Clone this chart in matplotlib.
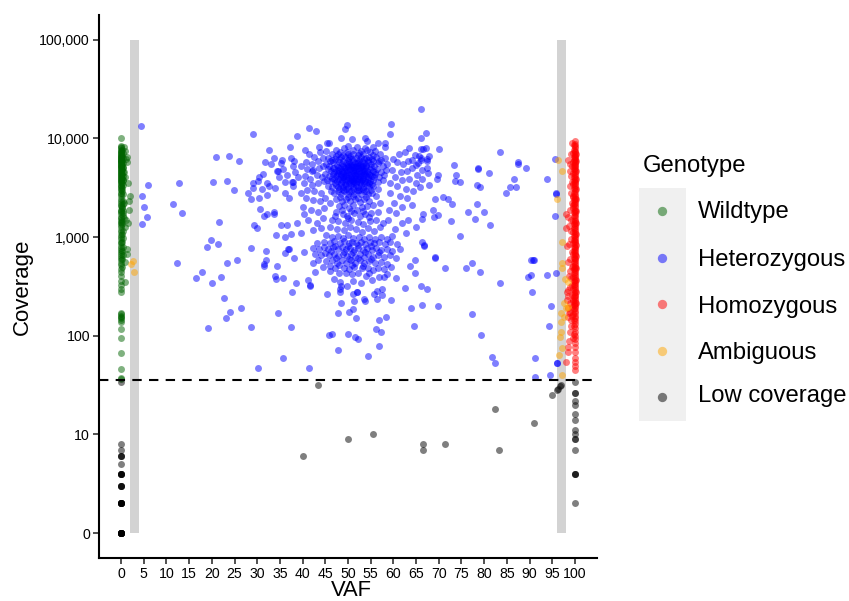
import numpy as np
import matplotlib
matplotlib.use("Agg")
import matplotlib.pyplot as plt
from matplotlib.patches import Rectangle
from matplotlib.ticker import FixedLocator, FixedFormatter, NullLocator

plt.rcParams["font.family"] = ["Liberation Sans", "DejaVu Sans"]

# coverage 0 sits on the log axis at 1, labelled "0"
wild_cov_0 = [10100, 8400, 8200, 8000, 7700, 7400, 7300, 7100, 7000, 6800, 6700, 6500, 6400, 6300, 6200, 6100,
              6000, 5900, 5800, 5700, 5600, 5500, 5400, 5300, 5200, 5100, 5000, 4900, 4800, 4700, 4600, 4500,
              4400, 4300, 4200, 4100, 4000, 3900, 3800, 3700, 3600, 3500, 3400, 3300, 3200, 3100, 3000, 2800,
              2700, 2600, 2450, 2300, 2200, 2100, 2050, 1900, 1850, 1800, 1700, 1600, 1550, 1480, 1420, 1380,
              1320, 1250, 1180, 1120, 1050, 1000, 950, 900, 860, 820, 780, 740, 700, 670, 640, 610, 580, 550,
              520, 470, 440, 400, 360, 330, 300, 280, 170, 165, 160, 155, 150, 145, 138, 117, 95, 67, 46, 37, 36]
wild_near = [(0.3, 7600), (0.4, 7050), (0.2, 6650), (0.4, 6250), (0.3, 5950), (0.5, 5650), (0.2, 5350), (0.4, 5150),
             (0.3, 4850), (0.5, 4550), (0.2, 4350), (0.4, 4150), (0.3, 3950), (0.5, 3750), (0.2, 3550), (0.4, 3350),
             (0.3, 3150), (0.2, 2950), (0.4, 2750), (0.5, 2150), (0.3, 2000), (0.2, 1950), (0.4, 1750), (0.5, 1650),
             (0.3, 1450), (0.2, 1350), (0.4, 1150), (0.3, 1080), (0.5, 980), (0.2, 880), (0.4, 800), (0.3, 720),
             (0.5, 650), (0.2, 600), (0.3, 500)]
wild_off = [(1.3, 6500), (1.25, 5700), (0.7, 8100), (0.9, 7400), (1.0, 6200), (1.5, 3500), (0.9, 4100), (0.6, 4600),
            (1.9, 2600), (1.8, 2300), (1.8, 1900), (1.6, 1400), (0.9, 1260), (0.7, 1570), (1.0, 1500), (0.5, 2300),
            (0.7, 2200), (0.4, 1850), (1.3, 760), (1.4, 670), (0.9, 560), (0.9, 350), (0.4, 5000), (0.5, 3800)]

het_sparse = [(4.4, 13400), (6.0, 3400), (4.7, 2600), (5.0, 2030), (5.8, 1600), (4.6, 1360), (12.8, 3500), (11.5, 2170),
              (13.4, 1760), (12.3, 550), (20.9, 6500), (23.8, 6600), (26, 5900), (20.3, 3600), (23.3, 3700), (24.9, 3000),
              (29.1, 11000), (38.8, 10600), (37.2, 8200), (32.6, 7700), (31.7, 5800), (33, 5500), (33.7, 6350), (35.2, 5650),
              (35.5, 6100), (35.7, 4900), (34.4, 4700), (34.6, 4700), (31.3, 4400), (30.4, 4100), (30.2, 3700), (29.1, 3500),
              (29.1, 3150), (28, 2800), (28.6, 2400), (30.4, 2500), (31.1, 3100), (32.2, 3500), (32.6, 3300), (33.9, 3150),
              (32.2, 2650), (34.8, 4100), (36.6, 4300), (36.1, 3600), (37.9, 3600), (37.7, 3650), (37.9, 3300), (36.1, 2800),
              (37, 2500), (37.4, 6350), (37.9, 5200), (38.1, 5900), (38.3, 4600), (39, 4100), (39.6, 5200), (39.6, 2800),
              (40.1, 2030), (30.6, 1930), (31.5, 1650), (32.2, 1730), (33.7, 1800), (33.7, 1700), (38.8, 1400), (35.2, 1320),
              (36.6, 1320), (34.1, 1050), (36.1, 1000), (37.4, 1080), (39.6, 1100), (29.3, 1320), (30, 1240), (21.6, 1430),
              (19.8, 930), (21.4, 850), (18.9, 800), (28.6, 770), (31.9, 720), (36.8, 750), (37, 750), (36.1, 690),
              (40.3, 710), (38.1, 610), (34.4, 510), (31.9, 590), (31.5, 530), (31.6, 510), (25.6, 590), (23.3, 550),
              (17.8, 440), (16.5, 385), (20, 340), (22, 395), (22.7, 240), (26.4, 190), (24, 175), (23.1, 150),
              (19.2, 120), (28.6, 123), (37.4, 123), (34.6, 170), (35.7, 60), (30.2, 47), (37.7, 280), (38.5, 340),
              (35.7, 385), (34.1, 375), (34, 400), (41.4, 47), (47.8, 72), (54.4, 62), (56.8, 79), (50, 104),
              (45.8, 102), (46.5, 105), (51.5, 97), (52.2, 92), (56.2, 117), (57.3, 109), (64.5, 125), (47.8, 170),
              (50.2, 175), (51.1, 185), (51.8, 150), (56.8, 145), (58.4, 155), (48.5, 215), (51.3, 225), (53.5, 235),
              (53.7, 225), (56.4, 235), (59.5, 230), (63.9, 190), (66.3, 205), (69.8, 200), (45.4, 265), (41.2, 365),
              (41.6, 320), (41.7, 325), (46.9, 375), (48.2, 350), (48.5, 320), (48.2, 300), (48.2, 275), (49.8, 320),
              (51.1, 360), (52.9, 340), (51.1, 265), (52, 280), (52, 275), (55.7, 265), (56.4, 285), (57.5, 300),
              (57.5, 260), (54, 400), (55.3, 370), (56.8, 395), (57.9, 395), (60.6, 385), (62.6, 305), (66, 320),
              (67.4, 295), (64.8, 430), (63.7, 510), (64.8, 590), (69.2, 620), (48, 430), (52.2, 430), (53, 480),
              (56.6, 480), (42.7, 440), (42.3, 550), (66.1, 20000), (67.2, 11400), (66.1, 10000), (66.5, 7800), (66.1, 7800),
              (67.2, 8000), (70, 7800), (67.8, 6600), (83.5, 7200), (87.4, 5800), (87.4, 5500), (89.2, 5050), (86.6, 3850),
              (85.7, 3200), (87, 3200), (84.8, 2800), (93.8, 3850), (95.6, 6200), (95.8, 2750), (95.9, 2780), (95.6, 1650),
              (78.6, 4950), (78.7, 4900), (81, 4450), (78.4, 3400), (79.1, 3200), (73.3, 5400), (73.8, 4300), (73.6, 3700),
              (74.7, 3600), (69.8, 4300), (69.6, 3850), (67.8, 3400), (69.2, 2400), (70.9, 2550), (72, 2400), (72.9, 2170),
              (78.4, 2170), (76.4, 1800), (80, 1800), (78, 1530), (81.3, 1320), (72.7, 1470), (74.7, 1030), (68.7, 1860),
              (69.8, 1680), (68.9, 1600), (66.5, 1730), (66.3, 1510), (66.1, 6300), (66.1, 6000), (67.4, 5900), (67.4, 6200),
              (67.4, 5050), (66.3, 4800), (67.6, 4450), (66.3, 3900), (66.3, 900), (66.7, 820), (66.8, 830), (69.2, 630),
              (71.4, 490), (76, 490), (77.3, 550), (79.1, 440), (83.5, 340), (77.3, 165), (79.3, 102), (81.7, 61),
              (82.4, 53), (90.3, 590), (90.7, 590), (91, 590), (89.6, 395), (90.3, 410), (93.8, 410), (95.8, 430),
              (90.5, 275), (94.7, 200), (94.3, 125), (91.2, 60), (91.2, 38), (94.5, 40), (96, 53), (96.1, 53)]

het_top = [(59.5, 14000), (49.8, 13700), (49.3, 12500), (41.4, 12800), (43, 11900), (59.3, 11000), (48.5, 10000),
           (53.7, 10000), (54.2, 9400), (50.9, 9900), (45.4, 8900), (45.8, 8900), (43.6, 8200), (56.6, 8900),
           (58.1, 8900), (58.1, 8200), (55.5, 8200), (63.4, 8000), (61.2, 6900), (62.5, 7200), (64.8, 6800), (65.6, 6600),
           (63.2, 5900), (64.2, 6000), (60, 6200), (60.8, 5700), (62.1, 5500), (64.9, 5400), (65.5, 5600), (59.6, 4800),
           (61.6, 4600), (63, 4700), (64, 5000), (65.1, 4300), (60.3, 4100), (61.8, 3800), (63.4, 3900), (64.9, 3500),
           (59.2, 3500), (60.7, 3300), (62.7, 3100), (64.4, 2900), (65.9, 3200), (59.3, 2800), (61.4, 2600), (63, 2500),
           (60.2, 2200), (62, 2000), (64.2, 2100), (59, 1900), (60.6, 1750), (63.2, 1500), (61.9, 1400), (64.9, 1250),
           (60.3, 1200), (62.8, 1100), (58.9, 1500), (40.5, 7600), (41.4, 6900), (42.6, 6400), (43.8, 7200), (40.7, 5800),
           (42, 5500), (43.3, 5900), (44.4, 6300), (41, 4900), (42.1, 4700), (42.4, 4750), (43.7, 5000), (44.6, 5200),
           (40.6, 4200), (41.6, 3900), (43.1, 4300), (44.2, 4100), (40.2, 3500), (42, 3400), (43.5, 3500), (44.8, 3700),
           (41, 3000), (42.6, 2900), (44.1, 2800), (40.8, 2500), (42.2, 2350), (43.8, 2300), (44.9, 2500), (40.3, 1700),
           (41.9, 1900), (43.4, 1800), (44.7, 1950), (41.2, 1500), (43.1, 1380), (44.5, 1550), (42.4, 1180), (44, 1220)]

het_core = [(45.2, 7400), (46.4, 7000), (47.3, 7700), (48.2, 7200), (49.1, 7900), (50.1, 8300), (51, 7600), (51.9, 8100),
            (52.8, 7500), (53.8, 8000), (54.8, 7200), (55.9, 7500), (57, 6900), (45.6, 6300), (46.5, 6100), (47.4, 6600),
            (48.1, 6200), (48.9, 6800), (49.4, 6400), (50, 7000), (50.5, 6600), (51.1, 6900), (51.7, 6300), (52.2, 6800),
            (52.8, 6500), (53.3, 6900), (53.9, 6300), (54.6, 6500), (55.3, 6200), (56.2, 6400), (57.3, 6100), (58.2, 6300),
            (45.1, 5500), (45.9, 5300), (46.8, 5700), (47.5, 5400), (48, 5800), (48.6, 5500), (49, 5900), (49.5, 5600),
            (49.9, 6000), (50.3, 5700), (50.7, 5400), (51.2, 5900), (51.5, 5600), (51.9, 5300), (52.3, 5800), (52.7, 5500),
            (53.1, 5900), (53.6, 5600), (54, 5400), (54.5, 5800), (55, 5500), (55.7, 5300), (56.5, 5600), (57.6, 5200),
            (58.5, 5500), (45.5, 4900), (46.3, 4700), (47, 5000), (47.7, 4800), (48.3, 5000), (48.7, 4700), (49.2, 5100),
            (49.6, 4800), (50, 5100), (50.4, 4900), (50.8, 5100), (51.1, 4800), (51.4, 5100), (51.8, 4800), (52.1, 5000),
            (52.5, 4700), (52.9, 5100), (53.3, 4800), (53.7, 5000), (54.2, 4700), (54.8, 4900), (55.4, 4700), (56.3, 4900),
            (57.2, 4600), (58.3, 4800), (44.9, 4400), (45.8, 4200), (46.6, 4400), (47.3, 4200), (47.9, 4500), (48.4, 4200),
            (48.9, 4500), (49.3, 4300), (49.8, 4600), (50.2, 4300), (50.6, 4500), (50.9, 4200), (51.3, 4500), (51.6, 4300),
            (52, 4500), (52.4, 4200), (52.8, 4500), (53.2, 4300), (53.5, 4500), (54, 4200), (54.6, 4400), (55.2, 4200),
            (56, 4400), (56.9, 4100), (58, 4300), (45.3, 3800), (46.2, 3700), (47, 3900), (47.6, 3700), (48.2, 3900),
            (48.7, 3700), (49.1, 3900), (49.5, 3700), (50, 4000), (50.4, 3700), (50.8, 3900), (51.2, 3700), (51.6, 3900),
            (52, 3700), (52.4, 3900), (52.8, 3700), (53.3, 3900), (53.8, 3700), (54.3, 3900), (54.9, 3700), (55.6, 3800),
            (56.6, 3600), (57.7, 3800), (45.7, 3300), (46.5, 3200), (47.3, 3400), (47.9, 3200), (48.5, 3400), (49, 3200),
            (49.6, 3400), (50.1, 3200), (50.7, 3400), (51.2, 3200), (51.7, 3400), (52.2, 3200), (52.8, 3400), (53.4, 3200),
            (54.1, 3400), (54.7, 3200), (55.5, 3300), (56.6, 3100), (46.2, 2900), (47, 2800), (47.8, 2900), (48.4, 2700),
            (49.2, 2900), (50, 2700), (50.6, 2900), (51.4, 2700), (52.1, 2900), (52.9, 2700), (53.6, 2900), (54.4, 2700),
            (55.2, 2800), (56.1, 2600), (47.3, 2400), (48.6, 2300), (49.5, 2450), (50.5, 2300), (51.5, 2400), (52.6, 2250),
            (53.5, 2400), (54.6, 2300), (46.1, 2200), (48.1, 2050), (49.1, 2100), (50.2, 1950), (51, 2100), (52, 1900),
            (53, 2000), (54.2, 2050), (55.6, 2100), (57, 2200), (47.4, 1800), (48.9, 1700), (49.8, 1650), (51.4, 1750),
            (52.6, 1650), (53.7, 1700), (55.1, 1750), (56.6, 1800), (46.4, 1500), (47.9, 1450), (49.3, 1400), (50.7, 1500),
            (52.2, 1420), (53.4, 1350), (54.8, 1450), (56.2, 1500), (57.8, 1400), (46, 1250), (47.6, 1200), (49.1, 1180),
            (50.4, 1250), (51.8, 1200), (53.1, 1120), (54.5, 1220), (55.8, 1150), (57.1, 1250)]

# second pass over the dark centre, between the rows above
het_core_fill = [(47.7, 6950), (49.7, 7350), (52.5, 7150), (54.2, 7550), (48.4, 6450), (50.2, 6250), (53.6, 6150), (55.6, 6750),
                 (46.1, 5850), (47.1, 6150), (48.9, 5250), (50.1, 5480), (50.9, 6120), (51.6, 5150), (52.5, 6050), (53.4, 5250),
                 (54.3, 6080), (55.4, 5880), (56.9, 5850), (46.6, 5050), (47.9, 5150), (48.5, 4380), (49.4, 4950), (49.9, 5300),
                 (50.6, 5250), (51.1, 5350), (51.5, 4650), (51.9, 5600), (52.3, 5300), (52.7, 4950), (53.1, 5250), (53.5, 4650),
                 (53.9, 5200), (54.4, 4550), (55.1, 5100), (55.9, 4600), (46.9, 4600), (47.5, 4400), (48.1, 4650), (48.8, 4050),
                 (49.2, 4700), (49.6, 4150), (50, 4400), (50.3, 4750), (50.7, 4100), (51, 4650), (51.4, 3950), (51.8, 4150),
                 (52.2, 4350), (52.6, 4050), (53, 4650), (53.4, 4100), (53.8, 4350), (54.3, 4050), (54.9, 4250), (55.7, 4050),
                 (46.4, 3950), (47.2, 3550), (47.8, 3850), (48.4, 3550), (49, 4050), (49.4, 3480), (49.8, 3820), (50.2, 3520),
                 (50.6, 3750), (51, 3500), (51.4, 3620), (51.8, 3550), (52.2, 3850), (52.6, 3520), (53, 3820), (53.6, 3550),
                 (54.1, 3580), (54.6, 3550), (55.3, 3480), (48.1, 3050), (48.8, 2980), (49.5, 3080), (50.3, 2950), (51, 3050),
                 (51.9, 3030), (52.5, 2980), (53.2, 3050), (54, 2950), (55, 3020), (48.3, 2550), (49.9, 2520), (51, 2620),
                 (52.3, 2500), (53.9, 2550), (48.6, 1900), (50.6, 1830), (53.3, 1850), (47.1, 1620), (50.1, 1550), (54.6, 1600)]

het_lower = [(45.2, 1050), (46.4, 1000), (47.7, 1030), (48.9, 980), (50.1, 1040), (51.2, 970), (52.4, 1010), (53.5, 950),
             (54.7, 1000), (56, 960), (57.2, 1000), (58.6, 950), (59.8, 1020), (44.8, 900), (46, 860), (47, 910),
             (48.2, 870), (49.2, 920), (50.2, 860), (50.9, 900), (51.8, 860), (52.8, 900), (53.8, 850), (54.9, 890),
             (55.8, 860), (56.9, 890), (58.2, 850), (59.3, 880), (60.8, 840), (43.1, 860), (42.2, 780), (43.6, 760),
             (44.7, 800), (45.6, 760), (46.7, 790), (47.7, 750), (48.6, 790), (49.5, 750), (50.4, 780), (51.3, 740),
             (52.3, 780), (53.2, 740), (54.2, 780), (55.2, 740), (56.2, 770), (57.3, 740), (58.5, 760), (59.7, 730),
             (61.4, 760), (42.8, 680), (44, 650), (45, 690), (45.9, 650), (46.9, 680), (47.9, 640), (48.9, 680),
             (49.8, 640), (50.7, 670), (51.6, 630), (52.6, 670), (53.5, 630), (54.5, 670), (55.5, 630), (56.6, 660),
             (57.9, 630), (59.2, 650), (60.6, 620), (43.3, 590), (45.2, 570), (46.4, 590), (47.5, 550), (48.6, 590),
             (49.6, 550), (50.6, 580), (51.6, 540), (52.6, 580), (53.6, 540), (54.7, 570), (55.9, 540), (57.2, 560),
             (58.6, 530), (44.6, 500), (46, 510), (47.2, 480), (49.1, 490), (50.2, 470), (51.4, 500), (54.4, 490),
             (55.4, 460), (58, 470), (59.4, 500), (46, 450), (49.6, 430), (50.8, 420), (54.6, 430), (58.6, 420),
             (47.2, 820), (49.9, 815), (52.1, 830), (55.1, 810), (46.2, 720), (49.1, 705), (51, 700), (53.8, 710),
             (56.9, 700), (47.4, 610), (50.3, 605), (52.2, 610), (55, 600), (48.1, 520), (50.9, 520), (53.2, 510)]

homo_cov_100 = [9300, 8800, 8300, 7900, 7500, 7200, 6900, 6600, 6400, 6200, 6000, 5800, 5600, 5400, 5200, 5000, 4800, 4600,
                4400, 4200, 4000, 3800, 3650, 3500, 3350, 3200, 3050, 2900, 2750, 2600, 2500, 2400, 2300, 2200, 2100, 2000,
                1900, 1820, 1740, 1660, 1580, 1500, 1440, 1380, 1320, 1260, 1200, 1150, 1100, 1050, 1000, 960, 920, 880,
                840, 800, 770, 740, 710, 680, 650, 620, 600, 570, 550, 520, 500, 480, 460, 440, 420, 400, 380, 365, 350,
                335, 320, 305, 290, 275, 260, 250, 240, 230, 220, 210, 200, 190, 180, 170, 160, 150, 140, 130, 120, 110,
                100, 92, 84, 76, 68, 60, 54, 49, 45]
homo_near = [(99.7, 8500), (99.8, 7700), (99.6, 7050), (99.8, 6500), (99.7, 6100), (99.6, 5700), (99.8, 5300), (99.7, 4900),
             (99.6, 4500), (99.8, 4100), (99.7, 3720), (99.6, 3420), (99.8, 3120), (99.7, 2820), (99.6, 2550), (99.8, 2350),
             (99.7, 2150), (99.6, 1950), (99.8, 1780), (99.7, 1620), (99.6, 1470), (99.8, 1350), (99.7, 1230), (99.6, 1120),
             (99.8, 1020), (99.7, 940), (99.6, 860), (99.8, 785), (99.7, 725), (99.6, 665), (99.8, 610), (99.7, 560),
             (99.6, 510), (99.8, 470), (99.7, 430), (99.6, 390), (99.8, 358), (99.7, 328), (99.6, 298), (99.8, 268),
             (99.7, 245), (99.6, 225), (99.8, 205), (99.7, 185), (99.6, 165), (99.8, 145), (99.7, 125), (99.8, 105),
             (100.2, 7000), (100.3, 5900), (100.2, 4700), (100.3, 3900), (100.2, 3100), (100.3, 2450), (100.2, 1850),
             (100.3, 1400), (100.2, 1080), (100.3, 830), (100.2, 640), (100.3, 490), (100.2, 370), (100.3, 280), (100.2, 215)]
homo_off = [(99.4, 9000), (99.2, 7000), (98.5, 6100), (99, 5500), (99.4, 5200), (98.9, 4700), (99.2, 4200), (99.4, 3600),
            (99, 3300), (99.2, 2800), (99.5, 2600), (99.3, 2200), (99.5, 2100), (98, 1730), (98.5, 1600), (98.8, 1900),
            (99.1, 1500), (98, 1220), (98.6, 1300), (99.2, 1150), (98.2, 820), (98.7, 850), (99.2, 950), (99.4, 700),
            (98.5, 560), (99, 600), (99.3, 500), (98.8, 450), (99.1, 380), (98.6, 400), (98.2, 275), (98.5, 290),
            (98.9, 310), (99.3, 330), (98.2, 230), (98.5, 250), (98.9, 215), (99.3, 260), (98.4, 190), (98.9, 175),
            (99.3, 195), (98.5, 155), (98.7, 170), (99.2, 145), (98.9, 109), (99.2, 125), (98.7, 89), (98.5, 77),
            (98.5, 68), (98, 54), (99.3, 160), (99.5, 95), (99.5, 230)]

amb_points = [(2.6, 570), (2.2, 530), (2.9, 440), (96.3, 6100), (97.1, 4700), (96, 2450), (97.1, 900), (97.1, 550), (97.1, 480),
              (97.8, 375), (98.5, 350), (97.6, 215), (98, 190), (96.9, 170), (98.5, 195), (97.6, 155), (96.9, 138),
              (96.9, 109), (96.7, 97), (97.1, 75), (96.5, 63), (97.1, 40)]

low_points = [(0, 34), (0, 8), (0, 7), (0, 6), (0, 6), (0, 6), (0, 5), (0, 4), (0, 4), (0, 4), (0, 4), (0, 4), (0, 3), (0, 3), (0, 3), (0, 3),
              (0, 2), (0, 2), (0, 2), (0, 2), (0, 2), (0, 2), (0, 2), (0, 2),
              (0, 1), (0, 1), (0, 1), (0, 1), (0, 1), (0, 1), (0, 1), (0, 1), (0, 1), (0, 1), (0, 1), (0, 1),
              (43.3, 32), (40, 6), (50, 9), (55.6, 10), (66.5, 8), (66.5, 7), (71.4, 8), (83.3, 7), (82.4, 18), (91, 13),
              (95, 25), (96, 28), (96.3, 29), (96.7, 31), (96.9, 32),
              (100, 34), (100, 26), (100, 26), (100, 22), (100, 20), (100, 16), (100, 14), (100, 11), (100, 10), (100, 9),
              (100, 9), (100, 7), (100, 4), (100, 4), (100, 4), (100, 2)]

genotypes = ["Wildtype", "Heterozygous", "Homozygous", "Ambiguous", "Low coverage"]
colors = ["darkgreen", "blue", "red", "orange", "black"]
x_ticks = list(range(0, 101, 5))
y_ticks = [1, 10, 100, 1000, 10000, 100000]
y_labels = ["0", "10", "100", "1,000", "10,000", "100,000"]
depth_cutoff = 35.5
shaded_bands = [(2, 4), (96, 98)]

wild = [(0, c) for c in wild_cov_0] + wild_near + wild_off
het = het_sparse + het_top + het_core + het_core_fill + het_lower
homo = [(100, c) for c in homo_cov_100] + homo_near + homo_off
groups = [wild, het, homo, amb_points, low_points]

fig = plt.figure(figsize=(8.49, 6.01), dpi=100)
ax = fig.add_axes([99 / 849, 43 / 601, 498 / 849, 543 / 601])

for lo, hi in shaded_bands:
    ax.add_patch(Rectangle((lo, 1), hi - lo, 99999, color="lightgrey", lw=0, zorder=1))

for pts, col in zip(groups, colors):
    arr = np.array(pts, dtype=float)
    ax.scatter(arr[:, 0], arr[:, 1], s=25, c=col, alpha=0.5, linewidths=0, zorder=2)

ax.axhline(depth_cutoff, color="black", lw=1.5, dashes=(4.5, 3.5), zorder=3)

ax.set_yscale("log")
ax.set_xlim(-4.85, 104.85)
ax.set_ylim(10 ** -0.253, 10 ** 5.25)
ax.xaxis.set_major_locator(FixedLocator(x_ticks))
ax.yaxis.set_major_locator(FixedLocator(y_ticks))
ax.yaxis.set_major_formatter(FixedFormatter(y_labels))
ax.yaxis.set_minor_locator(NullLocator())
ax.tick_params(axis="both", labelsize=10.2, width=1.1, length=4, color="#222222", pad=2.5)
ax.set_xlabel("VAF", fontsize=15.8, labelpad=-0.8)
ax.set_ylabel("Coverage", fontsize=16, labelpad=4.5)
ax.xaxis.label.set_x(0.506)
for side in ["top", "right"]:
    ax.spines[side].set_visible(False)
for side in ["left", "bottom"]:
    ax.spines[side].set_linewidth(1.5)

# legend drawn by hand, the key strip is narrower than the labels
leg = fig.add_axes([0, 0, 1, 1], facecolor="none")
leg.set_xlim(0, 849)
leg.set_ylim(601, 0)
leg.axis("off")
leg.add_patch(Rectangle((639, 188), 47, 233, color="#f0f0f0", lw=0))
leg.text(643, 166, "Genotype", fontsize=17.2, va="center", ha="left")
key_y = [211, 258, 304, 351, 397]
text_y = [212, 260, 307, 353, 396]
for name, col, ky, ty in zip(genotypes, colors, key_y, text_y):
    leg.scatter([662.5], [ky], s=45, c=col, alpha=0.5, linewidths=0)
    leg.text(698, ty, name, fontsize=17.2, va="center", ha="left")

fig.savefig("out.png", dpi=100)
